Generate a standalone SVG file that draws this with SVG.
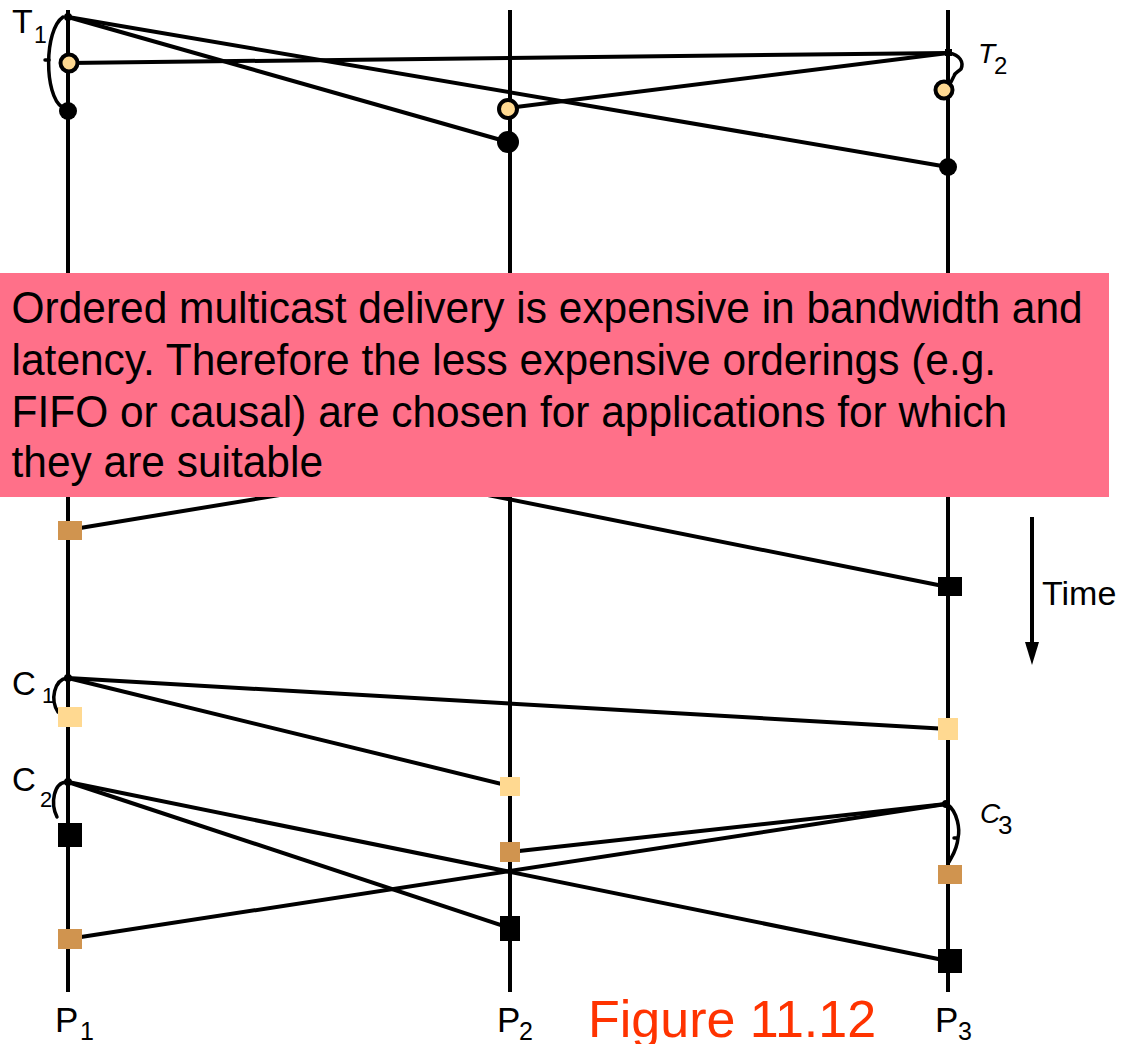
<svg xmlns="http://www.w3.org/2000/svg" width="1136" height="1044" viewBox="0 0 1136 1044">
<style>
.ln{stroke:#000;stroke-width:4;fill:none;stroke-linecap:butt}
.arc{stroke:#000;stroke-width:3.5;fill:none;stroke-linecap:round}
.t{font-family:"Liberation Sans",Arial,sans-serif;fill:#000}
.pale{fill:#FFD991}
.tan{fill:#D0944F}
.blk{fill:#000}
.circ{fill:#FFD991;stroke:#000;stroke-width:4}
</style>
<rect width="1136" height="1044" fill="#fff"/>
<g id="processes">
<line class="ln" x1="68" y1="10" x2="68" y2="992"/>
<line class="ln" x1="510" y1="10" x2="510" y2="992"/>
<line class="ln" x1="948" y1="10" x2="948" y2="992"/>
</g>
<g id="connectors">
<line class="ln" x1="68" y1="17" x2="508" y2="142"/>
<line class="ln" x1="68" y1="17" x2="948" y2="167"/>
<line class="ln" x1="948" y1="53" x2="68" y2="63"/>
<line class="ln" x1="948" y1="53" x2="508" y2="108"/>
<line class="ln" x1="510" y1="457" x2="68" y2="530"/>
<line class="ln" x1="68" y1="411" x2="948" y2="587"/>
<line class="ln" x1="68" y1="678" x2="948" y2="729"/>
<line class="ln" x1="68" y1="678" x2="510" y2="786"/>
<line class="ln" x1="68" y1="782" x2="510" y2="928"/>
<line class="ln" x1="68" y1="782" x2="948" y2="961"/>
<line class="ln" x1="946" y1="804" x2="510" y2="852"/>
<line class="ln" x1="946" y1="804" x2="68" y2="939"/>
<path class="arc" d="M63,17 C44,30 44,95 62,107"/>
<line class="arc" x1="45" y1="60" x2="49" y2="60"/>
<path class="arc" d="M949,53 C960,55 964,62 961,69 C958,72 955,72 954,76 L951,82"/>
<path class="arc" d="M67,678 C54,680 50,700 58,712"/>
<path class="arc" d="M66,782 C54,783 50,803 57,817"/>
<path class="arc" d="M947,804 C958,812 960,830 958,838 M958,838 L954,838 M958,838 C957,850 952,856 949,862" stroke-width="4.5"/>
<line x1="1032" y1="517" x2="1032" y2="644" stroke="#000" stroke-width="4"/>
<polygon points="1025,642 1039,642 1032,665" fill="#000"/>
</g>
<g id="events">
<circle cx="68" cy="17" r="4" class="blk"/>
<rect x="945" y="49" width="7" height="7" class="blk"/>
<circle cx="69" cy="63" r="8.5" class="circ"/>
<circle cx="68" cy="111" r="9" class="blk"/>
<circle cx="508" cy="109" r="9" class="circ"/>
<circle cx="508" cy="142" r="11" class="blk"/>
<circle cx="944" cy="90" r="8.5" class="circ"/>
<circle cx="948" cy="167" r="9" class="blk"/>
<rect x="58" y="521" width="24" height="19" class="tan"/>
<rect x="938" y="577" width="24" height="19" class="blk"/>
<circle cx="68" cy="678" r="4" class="blk"/>
<rect x="58" y="707" width="24" height="20" class="pale"/>
<rect x="938" y="718" width="20" height="22" class="pale"/>
<rect x="500" y="777" width="20" height="19" class="pale"/>
<circle cx="68" cy="782" r="4" class="blk"/>
<rect x="58" y="823" width="24" height="24" class="blk"/>
<circle cx="946" cy="804" r="4" class="blk"/>
<rect x="500" y="842" width="20" height="20" class="tan"/>
<rect x="938" y="865" width="24" height="19" class="tan"/>
<rect x="500" y="916" width="20" height="25" class="blk"/>
<rect x="58" y="929" width="24" height="20" class="tan"/>
<rect x="938" y="949" width="24" height="24" class="blk"/>
</g>
<g id="labels">
<text class="t" x="12" y="33" font-size="34">T</text>
<text class="t" x="34" y="43" font-size="23">1</text>
<text class="t" x="978" y="63" font-size="28" font-style="italic">T</text>
<text class="t" x="994" y="74" font-size="24">2</text>
<text class="t" x="12" y="695" font-size="33">C</text>
<text class="t" x="42" y="703" font-size="22">1</text>
<text class="t" x="12" y="791" font-size="33">C</text>
<text class="t" x="40" y="807" font-size="22">2</text>
<text class="t" x="980" y="823" font-size="28" font-style="italic">C</text>
<text class="t" x="998" y="834" font-size="26">3</text>
<text class="t" x="1042" y="605" font-size="34">Time</text>
<text class="t" x="55" y="1032" font-size="35">P</text>
<text class="t" x="80" y="1040" font-size="25">1</text>
<text class="t" x="497" y="1032" font-size="35">P</text>
<text class="t" x="519" y="1040" font-size="25">2</text>
<text class="t" x="935" y="1032" font-size="35">P</text>
<text class="t" x="958" y="1040" font-size="25">3</text>
<text x="588" y="1037" font-size="52" font-family="'Liberation Sans',Arial,sans-serif" fill="#FF3300">Figure 11.12</text>
</g>
<g id="note">
<rect x="0" y="273" width="1109" height="224" fill="#FF7089"/>
<g transform="scale(0.965,1)" class="t" font-size="44">
<text class="t" x="12" y="323">Ordered multicast delivery is expensive in bandwidth and</text>
<text class="t" x="12" y="375">latency. Therefore the less expensive orderings (e.g.</text>
<text class="t" x="12" y="427">FIFO or causal) are chosen for applications for which</text>
<text class="t" x="12" y="477">they are suitable</text>
</g>
</g>
</svg>
